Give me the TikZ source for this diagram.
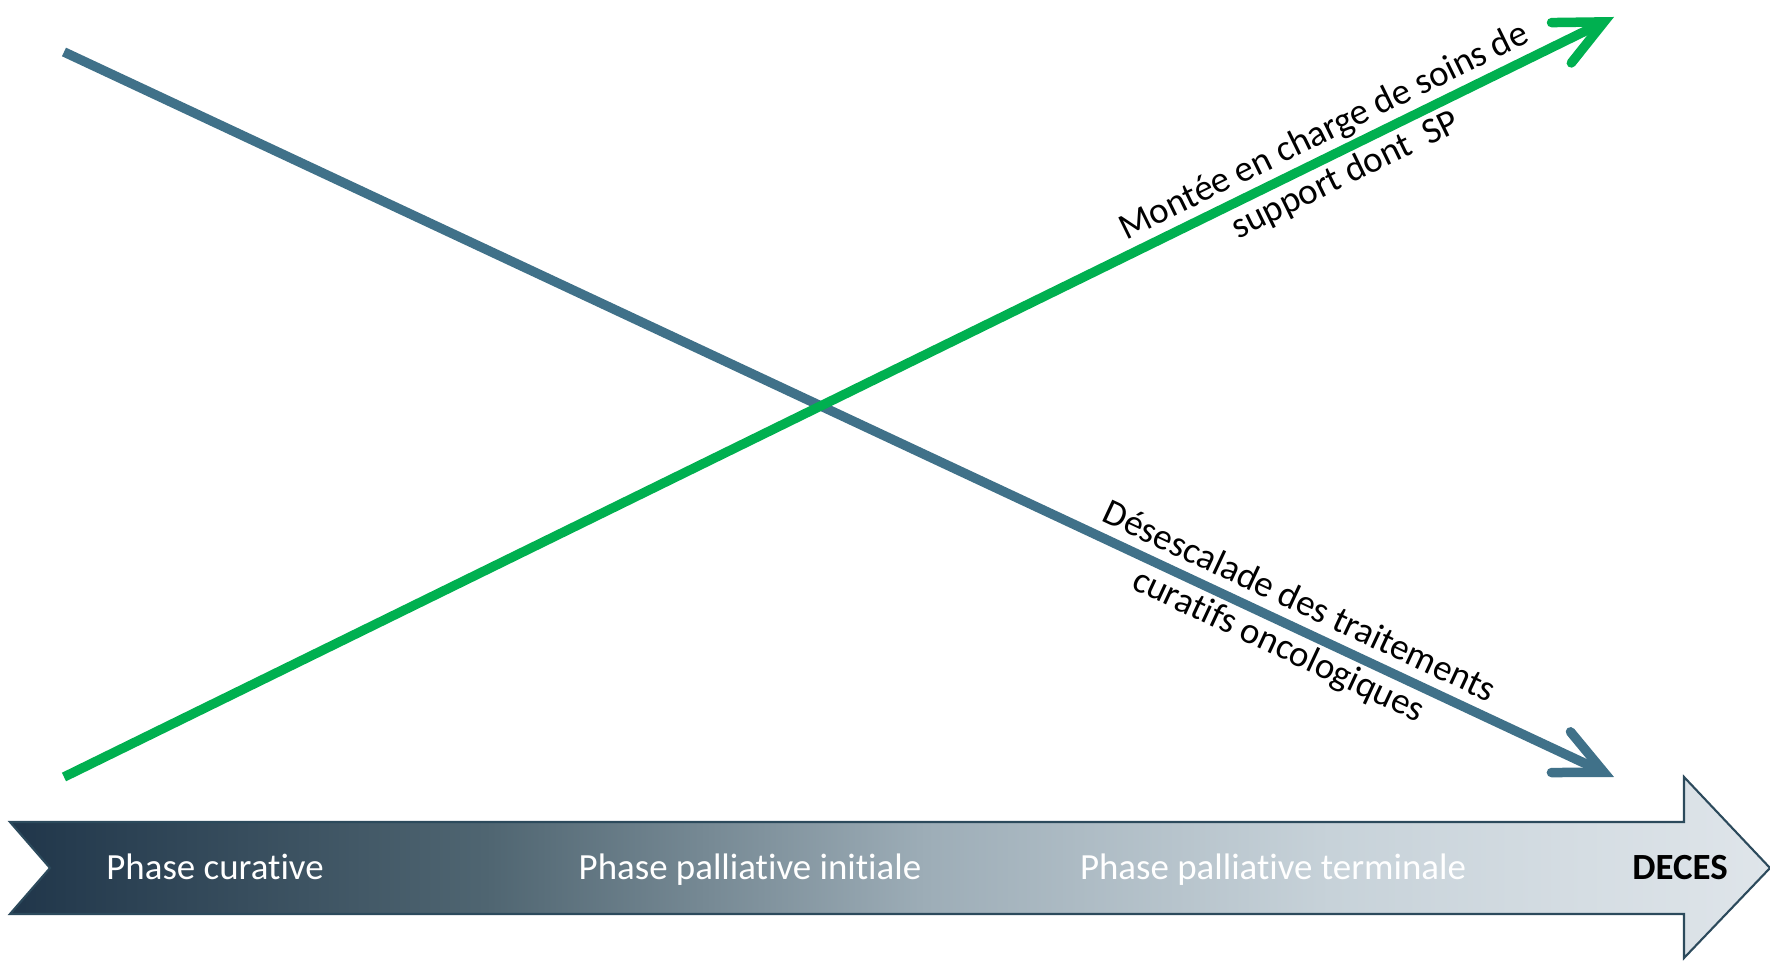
\documentclass[tikz,border=0pt]{standalone}
\usepackage{fontspec}
\setmainfont{Carlito}[Ligatures=NoCommon]
\usetikzlibrary{arrows.meta}

\definecolor{soinsgreen}{HTML}{00B050}
\definecolor{traitblue}{HTML}{407189}
\definecolor{bandedge}{HTML}{2C4A5C}
\definecolor{band0}{HTML}{20364A}
\definecolor{band1}{HTML}{4F6571}
\definecolor{band2}{HTML}{9DADB7}
\definecolor{band3}{HTML}{C7D2D9}
\definecolor{band4}{HTML}{DFE5EA}
% the path's box covers 25bp..75bp of the shading
\pgfdeclarehorizontalshading{timeband}{100bp}{color(0bp)=(band0); color(25bp)=(band0); color(38.5bp)=(band1); color(51bp)=(band2); color(62.5bp)=(band3); color(75bp)=(band4); color(100bp)=(band4)}

\begin{document}
\begin{tikzpicture}[
    trend/.style={line width=0.19cm, -{Straight Barb[length=0.95cm,width=0.9cm,line cap=round,line join=miter]}},
    trendlabel/.style={sloped, align=center, inner sep=0pt, text=black, font=\fontsize{21}{27.5}\selectfont},
    phase/.style={anchor=base, text=white, font=\fontsize{21}{26}\selectfont}
  ]
  \useasboundingbox (0,0) rectangle (35.4,19.2);

  % timeline band
  \draw[bandedge, line width=1.2pt, shading=timeband]
    (0.2,2.76) -- (33.68,2.76) -- (33.68,3.66) -- (35.4,1.84)
    -- (33.68,0.04) -- (33.68,0.92) -- (0.2,0.92) -- (1.0,1.84) -- cycle;
  \node[phase] (curative) at (4.3,1.6) {Phase curative};
  \node[phase] (initiale) at (15.0,1.6) {Phase palliative initiale};
  \node[phase] (terminale) at (25.46,1.6) {Phase palliative terminale};
  \node[phase, text=black, font=\fontsize{21}{26}\selectfont\bfseries] (deces) at (33.6,1.6) {DECES};

  % the two trends
  \coordinate (traitStart) at (1.28,18.16);
  \coordinate (traitEnd) at (32.28,3.66);
  \coordinate (soinsStart) at (1.28,3.66);
  \coordinate (soinsEnd) at (32.28,18.86);

  \draw[trend, traitblue] (traitStart) -- (traitEnd)
    node[trendlabel, pos=0.79] (traitLabel) {Désescalade des traitements\\curatifs oncologiques};
  \draw[trend, soinsgreen] (soinsStart) -- (soinsEnd)
    node[trendlabel, pos=0.82] (soinsLabel) {Montée en charge de soins de\\support dont\ \ SP};
\end{tikzpicture}
\end{document}
